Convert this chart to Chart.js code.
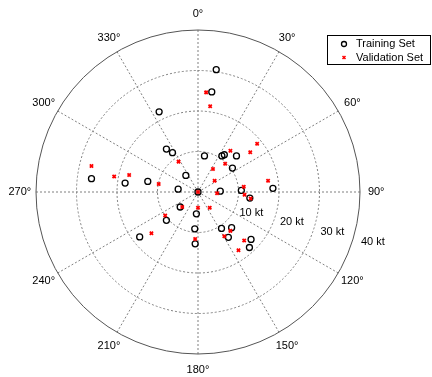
<!DOCTYPE html>
<html>
<head>
<meta charset="utf-8">
<script src="https://cdn.jsdelivr.net/npm/chart.js@4.4.1/dist/chart.umd.min.js"></script>
<style>
  html, body { margin: 0; padding: 0; background: #fff; }
  #wrap { width: 432px; height: 377px; }
</style>
</head>
<body>
<div id="wrap"><canvas id="polar-chart" width="432" height="377"></canvas></div>
<script>
// Wind vectors, east / north components in kt
const trainEast  = [4.5, 3.4, -9.6, -7.8, -6.3, 1.6, 5.9, 6.5, 9.5, 8.5, -3.0, -12.4, -18.0, -4.9, 0, 5.5, 10.7, 12.8, 18.5, -26.3,
                    -4.4, -0.4, -7.8, -0.8, 5.8, 8.3, 7.5, -14.4, -0.7, 13.1, 12.7];
const trainNorth = [30.2, 24.7, 19.8, 10.6, 9.7, 8.9, 8.9, 9.2, 8.9, 5.9, 4.1, 2.6, 2.2, 0.7, 0, 0.2, 0.4, -1.5, 0.9, 3.3,
                    -3.7, -5.4, -7.0, -9.1, -9.0, -8.8, -11.2, -11.1, -12.8, -11.7, -13.7];
const valEast  = [2.0, 3.0, 14.6, 8.0, 12.9, 6.7, -4.8, 3.7, 4.1, 17.3, -17.0, -20.7, -9.7, 11.3, 11.5, 4.7, 0, 13.0, -26.3,
                  -3.9, 0, 2.9, -8.1, 8.0, 6.5, -11.5, -0.7, 11.4, 10.0];
const valNorth = [24.6, 21.2, 11.9, 10.2, 9.8, 7.0, 7.5, 5.7, 2.8, 2.8, 4.2, 3.8, 2.0, 1.3, -0.7, -0.3, 0, -1.6, 6.4,
                  -3.7, -3.9, -3.9, -5.8, -9.6, -10.9, -10.2, -11.6, -12.0, -14.4];

const angleLabels = [0, 30, 60, 90, 120, 150, 180, 210, 240, 270, 300, 330];
const ringSpeeds = [10, 20, 30, 40];
const seriesNames = ['Training Set', 'Validation Set'];

const toPoints = (xs, ys) => xs.map((x, i) => ({ x: x, y: ys[i] }));

// Polar grid, angle / speed labels and boxed legend
const polarGrid = {
  id: 'polarGrid',
  beforeDatasetsDraw(chart) {
    const ctx = chart.ctx;
    const sx = chart.scales.x, sy = chart.scales.y;
    const cx = sx.getPixelForValue(0), cy = sy.getPixelForValue(0);
    const R = sx.getPixelForValue(40) - cx;
    ctx.save();
    ctx.strokeStyle = '#808080';
    ctx.lineWidth = 1;
    ctx.setLineDash([2, 2]);
    ringSpeeds.slice(0, -1).forEach(s => {
      const r = sx.getPixelForValue(s) - cx;
      ctx.beginPath();
      ctx.arc(cx, cy, r, 0, Math.PI * 2);
      ctx.stroke();
    });
    angleLabels.forEach(a => {
      const t = a * Math.PI / 180;
      ctx.beginPath();
      ctx.moveTo(cx, cy);
      ctx.lineTo(cx + R * Math.sin(t), cy - R * Math.cos(t));
      ctx.stroke();
    });
    ctx.setLineDash([]);
    ctx.strokeStyle = '#555';
    ctx.beginPath();
    ctx.arc(cx, cy, R, 0, Math.PI * 2);
    ctx.stroke();
    ctx.restore();
  },
  afterDatasetsDraw(chart) {
    const ctx = chart.ctx;
    const sx = chart.scales.x, sy = chart.scales.y;
    const cx = sx.getPixelForValue(0), cy = sy.getPixelForValue(0);
    const R = sx.getPixelForValue(40) - cx;
    ctx.save();
    ctx.fillStyle = '#000';
    ctx.font = '11px "Liberation Sans", Arial, sans-serif';
    ctx.textAlign = 'center';
    ctx.textBaseline = 'middle';
    angleLabels.forEach(a => {
      const t = a * Math.PI / 180;
      ctx.fillText(a + '°', cx + 1.1 * R * Math.sin(t), cy - 1.1 * R * Math.cos(t));
    });
    ctx.textAlign = 'left';
    ringSpeeds.forEach(s => {
      const r = sx.getPixelForValue(s) - cx;
      ctx.fillText(s + ' kt', cx + r + 1, cy + 11 + 0.24 * r);
    });

    // legend
    ctx.strokeStyle = '#000';
    ctx.lineWidth = 1;
    ctx.strokeRect(327.5, 35.5, 103, 29);
    ctx.fillText(seriesNames[0], 356, 44);
    ctx.fillText(seriesNames[1], 356, 57.5);
    ctx.lineWidth = 1.3;
    ctx.beginPath();
    ctx.arc(344, 44, 2.5, 0, Math.PI * 2);
    ctx.stroke();
    ctx.strokeStyle = '#f00';
    ctx.lineWidth = 1.5;
    ctx.beginPath();
    ctx.moveTo(342.5, 56); ctx.lineTo(345.5, 59);
    ctx.moveTo(345.5, 56); ctx.lineTo(342.5, 59);
    ctx.stroke();
    ctx.restore();
  }
};

document.addEventListener('DOMContentLoaded', () => {
  const ctx = document.getElementById('polar-chart').getContext('2d');
  new Chart(ctx, {
    type: 'scatter',
    data: {
      datasets: [{
        label: seriesNames[1],
        data: toPoints(valEast, valNorth),
        pointStyle: 'crossRot',
        pointRadius: 2.3,
        borderColor: '#ff0000',
        backgroundColor: '#ff0000',
        borderWidth: 1.8,
        order: 0
      }, {
        label: seriesNames[0],
        data: toPoints(trainEast, trainNorth),
        pointStyle: 'circle',
        pointRadius: 3,
        borderColor: '#000',
        backgroundColor: 'rgba(0,0,0,0)',
        borderWidth: 1.3,
        order: 1
      }]
    },
    options: {
      responsive: false,
      animation: false,
      clip: false,
      layout: { padding: { left: 36, right: 72, top: 30, bottom: 23 } },
      scales: {
        x: { type: 'linear', min: -40, max: 40, display: false },
        y: { type: 'linear', min: -40, max: 40, display: false }
      },
      plugins: {
        legend: { display: false },
        tooltip: { enabled: false }
      }
    },
    plugins: [polarGrid]
  });
});
</script>
</body>
</html>
